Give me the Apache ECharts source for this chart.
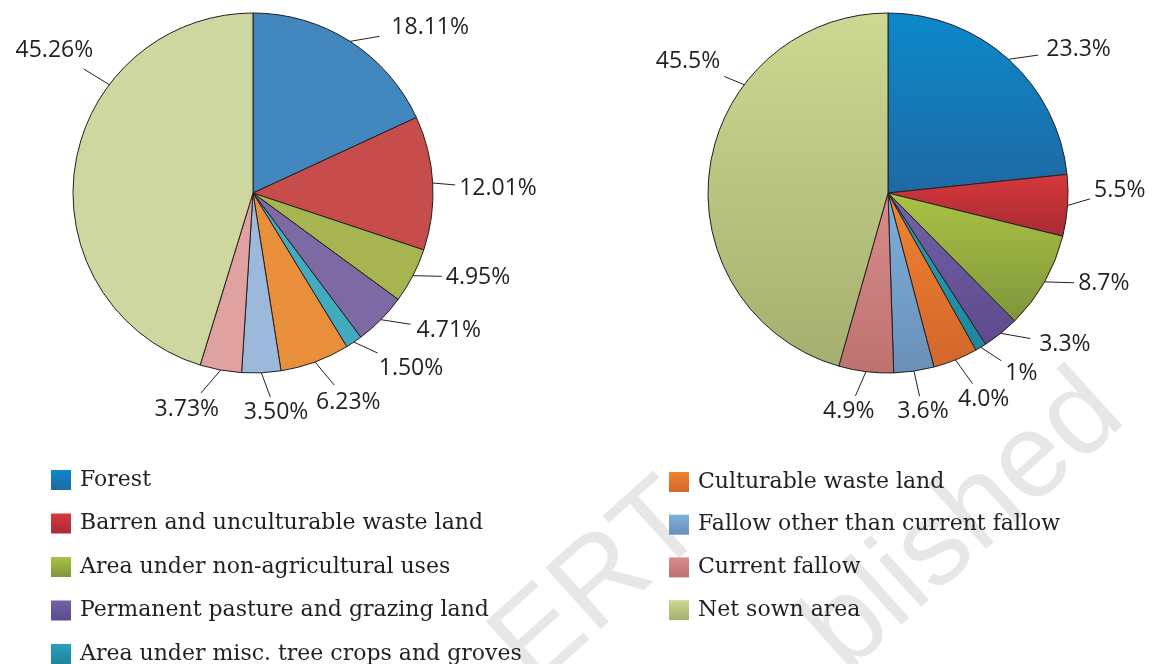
<!DOCTYPE html>
<html><head><meta charset="utf-8">
<script src="https://cdn.jsdelivr.net/npm/echarts@6.0.0/dist/echarts.min.js"></script>
<style>html,body{margin:0;padding:0;background:#fff}#c{width:1161px;height:664px}</style>
</head><body><div id="c"></div>
<script>
const categories = ['Forest','Barren and unculturable waste land','Area under non-agricultural uses','Permanent pasture and grazing land','Area under misc. tree crops and groves','Culturable waste land','Fallow other than current fallow','Current fallow','Net sown area'];
const leftValues = [18.11, 12.01, 4.95, 4.71, 1.50, 6.23, 3.50, 3.73, 45.26];
const rightValues = [23.3, 5.5, 8.7, 3.3, 1, 4.0, 3.6, 4.9, 45.5];
const leftLabels = ['18.11%','12.01%','4.95%','4.71%','1.50%','6.23%','3.50%','3.73%','45.26%'];
const rightLabels = ['23.3%','5.5%','8.7%','3.3%','1%','4.0%','3.6%','4.9%','45.5%'];
const leftColors = ['#4286be','#c64d4b','#a6b550','#7d69a3','#43abbf','#e98f3c','#9cb9dc','#dfa2a0','#cfd7a0'];
const rightTop = ['#0b89ca','#d6393b','#abc245','#7262a8','#2aa0bb','#f2832f','#7db0dc','#d98c8b','#cdd892'];
const rightBottom = ['#1f69a4','#a82a34','#7e963b','#5e4a8c','#1e869d','#d2662c','#6a90b8','#bd7270','#a5b070'];

// label placement (styling): direction of each label from the pie centre, in degrees
const LABEL_PLACEMENT = {
  left:  {angles:[-43, -1, 20.5, 35, 48, 65.5, 84, 107, -144.4], lineStart:{8:-143}},
  right: {angles:[-37, -0.7, 22.8, 40.6, 53.6, 65.1, 80.9, 100.2, -146.7], lineStart:{8:-143}}
};

const INK = '#231f20';
const R = 180, LD = 24, GAP = 2, LG = 4, LMAX = 30;
const LC = [253, 193], RC = [888, 193];

function grad(i){
  return new echarts.graphic.LinearGradient(0,0,0,1,[{offset:0,color:rightTop[i]},{offset:1,color:rightBottom[i]}]);
}
function makeLayout(values, c, place){
  const total = values.reduce((a,b)=>a+b,0);
  const mid = []; let s = 0;
  values.forEach(v=>{ mid.push(s+v/2); s+=v; });
  return function(p){
    const i = p.dataIndex;
    const sdeg = place.lineStart[i] != null ? place.lineStart[i] : -90 + 360*mid[i]/total;
    const sa = sdeg*Math.PI/180;
    const p0 = [c[0]+R*Math.cos(sa), c[1]+R*Math.sin(sa)];
    const la = place.angles[i]*Math.PI/180, ux = Math.cos(la), uy = Math.sin(la);
    const w = p.labelRect.width, h = p.labelRect.height;
    const D = R + LD + Math.abs(ux)*w/2 + Math.abs(uy)*h/2 + GAP;
    const L = [c[0]+ux*D, c[1]+uy*D];
    const dx = L[0]-p0[0], dy = L[1]-p0[1], dl = Math.hypot(dx,dy), vx = dx/dl, vy = dy/dl;
    const hx = w/2+LG, hy = h/2+LG;
    let t = 0;
    if (Math.abs(vx) > 1e-6) t = Math.max(t, (Math.abs(dx)-hx)/Math.abs(vx));
    if (Math.abs(vy) > 1e-6) t = Math.max(t, (Math.abs(dy)-hy)/Math.abs(vy));
    t = Math.min(t, LMAX);
    return {x:L[0], y:L[1], align:'center', verticalAlign:'middle',
            labelLinePoints:[p0, [p0[0]+vx*t, p0[1]+vy*t]]};
  };
}
const labelStyle = {show:true, position:'outside', color:INK, fontFamily:'Open Sans', fontSize:23, lineHeight:23};
const lineStyle = {show:true, length:LD, length2:0, lineStyle:{color:INK, width:1}};

function legendCfg(left, top, gap, names, offset){
  return {
    orient:'vertical', left:left, top:top, height:260, padding:0, itemWidth:20, itemHeight:20, itemGap:gap, icon:'rect',
    selectedMode:false,
    textStyle:{fontFamily:'DejaVu Serif', fontSize:22, color:INK, lineHeight:20, padding:[4,0,0,4]},
    itemStyle:{borderWidth:0},
    data: names.map((n,k)=>({name:n, itemStyle:{color:grad(k+offset), borderWidth:0}}))
  };
}

const chart = echarts.init(document.getElementById('c'), null, {renderer:'canvas'});
chart.setOption({
  backgroundColor:'#fff',
  animation:false,
  graphic:[
    {type:'text', x:600, y:585, rotation:42*Math.PI/180, z:-1, silent:true,
     style:{text:'ERT', font:'120px "Liberation Sans"', fill:'#e7e7e7', align:'center', verticalAlign:'middle'}},
    {type:'text', x:965, y:523, rotation:42*Math.PI/180, z:-1, silent:true,
     style:{text:'blished', font:'120px "Liberation Sans"', fill:'#e7e7e7', align:'center', verticalAlign:'middle'}}
  ],
  legend:[
    legendCfg(51, 468, 19.5, categories.slice(0,5), 0),
    legendCfg(669, 470, 18.7, categories.slice(5), 5)
  ],
  series:[
    {
      type:'pie', center:LC, radius:R, startAngle:90, clockwise:true, avoidLabelOverlap:false,
      emphasis:{disabled:true},
      itemStyle:{borderColor:INK, borderWidth:1},
      label:Object.assign({}, labelStyle, {formatter:p=>leftLabels[p.dataIndex]}),
      labelLine:lineStyle,
      labelLayout:makeLayout(leftValues, LC, LABEL_PLACEMENT.left),
      data:categories.map((n,i)=>({name:n, value:leftValues[i], itemStyle:{color:leftColors[i]}}))
    },
    {
      type:'pie', center:RC, radius:R, startAngle:90, clockwise:true, avoidLabelOverlap:false,
      emphasis:{disabled:true},
      itemStyle:{borderColor:INK, borderWidth:1},
      label:Object.assign({}, labelStyle, {formatter:p=>rightLabels[p.dataIndex]}),
      labelLine:lineStyle,
      labelLayout:makeLayout(rightValues, RC, LABEL_PLACEMENT.right),
      data:categories.map((n,i)=>({name:n, value:rightValues[i], itemStyle:{color:grad(i)}}))
    }
  ]
});
</script></body></html>
